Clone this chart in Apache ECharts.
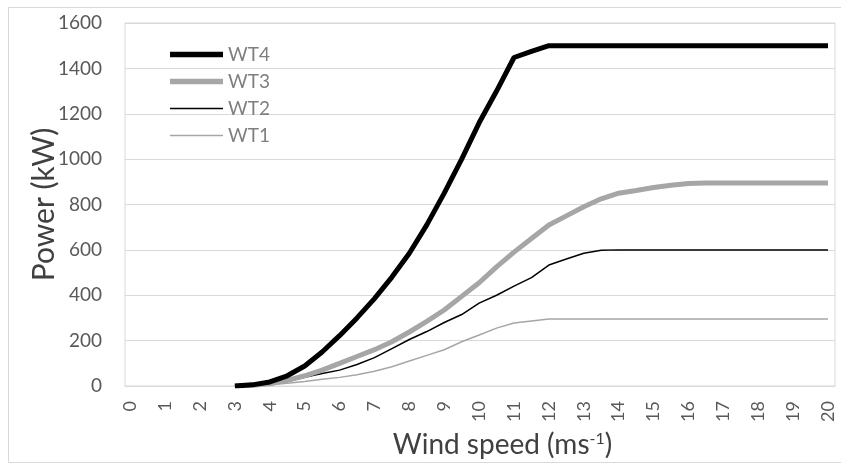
<!DOCTYPE html>
<html>
<head>
<meta charset="utf-8">
<script src="https://cdn.jsdelivr.net/npm/echarts@6/dist/echarts.min.js"></script>
<style>html,body{margin:0;padding:0;background:#fff;}#c{width:841px;height:464px;}</style>
</head>
<body>
<div id="c"></div>
<script>
var speeds = [3,3.5,4,4.5,5,5.5,6,6.5,7,7.5,8,8.5,9,9.5,10,10.5,11,11.5,12,12.5,13,13.5,14,14.5,15,15.5,16,16.5,17,17.5,18,18.5,19,19.5,20];
var wt4 = [0,5,18,45,88,150,222,300,385,480,585,710,850,1000,1160,1300,1448,1475,1500,1500,1500,1500,1500,1500,1500,1500,1500,1500,1500,1500,1500,1500,1500,1500,1500];
var wt3 = [0,3,10,25,45,70,100,130,160,195,238,285,335,395,455,525,590,650,710,750,790,825,850,862,875,885,893,895,895,895,895,895,895,895,895];
var wt2 = [0,3,8,20,38,55,70,95,125,165,205,240,280,315,365,400,440,478,533,560,585,598,600,600,600,600,600,600,600,600,600,600,600,600,600];
var wt1 = [0,2,5,12,20,30,38,50,65,85,110,135,160,195,225,255,278,287,295,295,295,295,295,295,295,295,295,295,295,295,295,295,295,295,295];
var xTicks = [0,1,2,3,4,5,6,7,8,9,10,11,12,13,14,15,16,17,18,19,20];
var seriesNames = ['WT4','WT3','WT2','WT1'];

function pairs(v){ return speeds.map(function(s,i){ return [s, v[i]]; }); }

var FONT = 'Lato';
var THICK = 'path://M0,0H53V5.5H0Z';
var THIN = 'path://M0,0H53V1.5H0Z';
var chart = echarts.init(document.getElementById('c'), null, {renderer:'canvas'});
chart.setOption({
  animation: false,
  backgroundColor: '#fff',
  graphic: [{type:'rect', shape:{x:8.5,y:7.5,width:840,height:455}, style:{fill:'none', stroke:'#d9d9d9', lineWidth:1}, silent:true}],
  grid: {left:125, right:6, top:23, bottom:78, show:true, borderColor:'#d9d9d9', borderWidth:1},
  legend: {
    orient:'vertical', left:165, top:40, itemWidth:53, itemHeight:14, itemGap:8,
    symbolKeepAspect:true,
    data: [
      {name:'WT4', icon:THICK, itemStyle:{color:'#000'}},
      {name:'WT3', icon:THICK, itemStyle:{color:'#a6a6a6'}},
      {name:'WT2', icon:THIN, itemStyle:{color:'#000'}},
      {name:'WT1', icon:THIN, itemStyle:{color:'#a6a6a6'}}
    ],
    textStyle:{color:'#7f7f7f', fontSize:19, fontFamily:FONT}
  },
  xAxis: {
    type:'value', min:-0.15, max:20.2,
    name:'{a|Wind speed (ms}{s|-1}{a|)}', nameLocation:'middle', nameGap:45, nameMoveOverlap:false,
    nameTextStyle:{padding:[0,0,0,45], rich:{a:{fontSize:28, color:'#404040', fontFamily:FONT}, s:{fontSize:16, color:'#404040', fontFamily:FONT, verticalAlign:'top', padding:[0,0,10,0]}}},
    axisLine:{show:true, lineStyle:{color:'#d9d9d9'}},
    axisTick:{show:false},
    splitLine:{show:false},
    axisLabel:{customValues:xTicks, rotate:90, margin:15, color:'#595959', fontSize:18, fontFamily:FONT}
  },
  yAxis: {
    type:'value', min:0, max:1600, interval:200,
    name:'Power (kW)', nameLocation:'middle', nameGap:66, nameMoveOverlap:false,
    nameTextStyle:{fontSize:30, color:'#404040', fontFamily:FONT},
    axisLine:{show:false}, axisTick:{show:false},
    splitLine:{lineStyle:{color:'#d9d9d9'}},
    axisLabel:{margin:23, color:'#595959', fontSize:19, fontFamily:FONT, formatter:function(v){return String(v);}}
  },
  series: [
    {name:'WT1', type:'line', symbol:'none', data:pairs(wt1), lineStyle:{color:'#a6a6a6', width:1.5}, itemStyle:{color:'#a6a6a6'}, z:2},
    {name:'WT2', type:'line', symbol:'none', data:pairs(wt2), lineStyle:{color:'#000', width:1.5}, itemStyle:{color:'#000'}, z:3},
    {name:'WT3', type:'line', symbol:'none', data:pairs(wt3), lineStyle:{color:'#a6a6a6', width:5}, itemStyle:{color:'#a6a6a6'}, z:4},
    {name:'WT4', type:'line', symbol:'none', data:pairs(wt4), lineStyle:{color:'#000', width:5}, itemStyle:{color:'#000'}, z:5}
  ]
});
</script>
</body>
</html>
